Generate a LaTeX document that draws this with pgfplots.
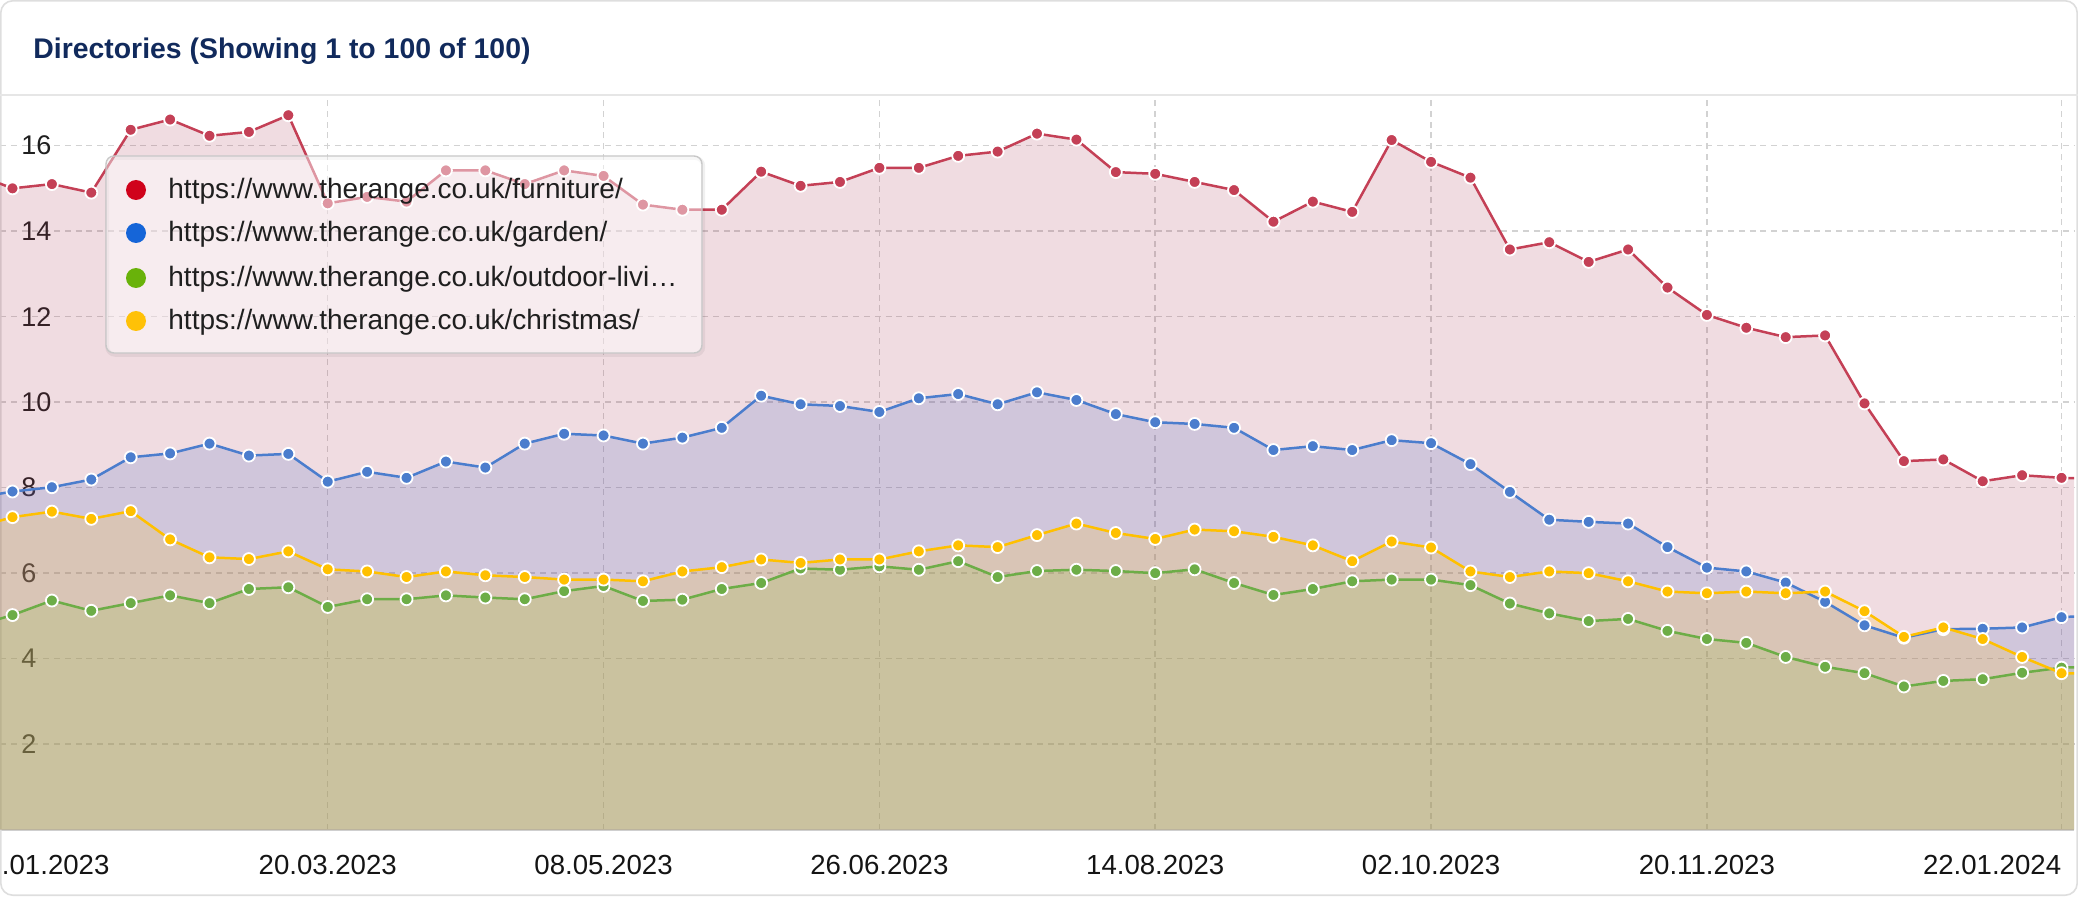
\documentclass[border=0pt]{standalone}
\usepackage{fontspec}
\setmainfont{Liberation Sans}
\usepackage{pgfplots}
\usepackage{pgfplotstable}
\pgfplotsset{compat=1.18}

\definecolor{redline}{HTML}{C44056}
\definecolor{blueline}{HTML}{4B7DCD}
\definecolor{greenline}{HTML}{6DAD47}
\definecolor{yellowline}{HTML}{FFC000}
\definecolor{redfill}{RGB}{165,45,75}
\definecolor{bluefill}{RGB}{80,110,198}
\definecolor{yellowfill}{RGB}{253,193,33}
\definecolor{greenfill}{RGB}{140,185,60}
\definecolor{lred}{HTML}{D0021B}
\definecolor{lblue}{HTML}{1565D8}
\definecolor{lgreen}{HTML}{69B20A}
\definecolor{lyellow}{HTML}{FFC107}
\definecolor{gridc}{HTML}{D2D2D2}
\definecolor{navy}{HTML}{112A5C}
\definecolor{cardline}{HTML}{DEDEDE}
\definecolor{sepline}{HTML}{E6E6E6}
\definecolor{axisline}{HTML}{CFCFCF}
\definecolor{legline}{HTML}{C8C8C8}

% weekly points, week 0 = 23.01.2023
\pgfplotstableread{
x y
-1 15.35
0 15.00
1 15.10
2 14.90
3 16.37
4 16.61
5 16.23
6 16.32
7 16.71
8 14.65
9 14.80
10 14.69
11 15.42
12 15.42
13 15.10
14 15.42
15 15.29
16 14.62
17 14.50
18 14.50
19 15.39
20 15.06
21 15.15
22 15.48
23 15.48
24 15.76
25 15.86
26 16.28
27 16.14
28 15.38
29 15.34
30 15.15
31 14.96
32 14.22
33 14.69
34 14.45
35 16.13
36 15.62
37 15.25
38 13.57
39 13.74
40 13.28
41 13.57
42 12.68
43 12.04
44 11.74
45 11.52
46 11.56
47 9.97
48 8.62
49 8.66
50 8.15
51 8.29
52 8.23
53 8.20
}\furniture

\pgfplotstableread{
x y
-1 7.75
0 7.91
1 8.01
2 8.19
3 8.71
4 8.80
5 9.03
6 8.75
7 8.79
8 8.14
9 8.37
10 8.23
11 8.61
12 8.47
13 9.03
14 9.26
15 9.22
16 9.03
17 9.17
18 9.40
19 10.15
20 9.95
21 9.91
22 9.77
23 10.09
24 10.19
25 9.95
26 10.23
27 10.05
28 9.72
29 9.53
30 9.49
31 9.40
32 8.88
33 8.97
34 8.88
35 9.11
36 9.04
37 8.55
38 7.90
39 7.25
40 7.20
41 7.16
42 6.61
43 6.13
44 6.04
45 5.78
46 5.33
47 4.78
48 4.49
49 4.69
50 4.70
51 4.73
52 4.97
53 5.02
}\garden

\pgfplotstableread{
x y
-1 4.75
0 5.02
1 5.36
2 5.12
3 5.30
4 5.48
5 5.30
6 5.63
7 5.67
8 5.21
9 5.39
10 5.39
11 5.48
12 5.43
13 5.39
14 5.58
15 5.70
16 5.35
17 5.38
18 5.63
19 5.77
20 6.11
21 6.08
22 6.16
23 6.08
24 6.28
25 5.91
26 6.05
27 6.08
28 6.05
29 6.00
30 6.09
31 5.77
32 5.49
33 5.63
34 5.81
35 5.85
36 5.85
37 5.72
38 5.29
39 5.06
40 4.88
41 4.93
42 4.65
43 4.46
44 4.37
45 4.04
46 3.81
47 3.66
48 3.35
49 3.48
50 3.52
51 3.67
52 3.79
53 3.82
}\outdoor

\pgfplotstableread{
x y
-1 7.05
0 7.31
1 7.44
2 7.27
3 7.45
4 6.79
5 6.37
6 6.33
7 6.51
8 6.09
9 6.04
10 5.91
11 6.04
12 5.95
13 5.91
14 5.85
15 5.85
16 5.81
17 6.04
18 6.14
19 6.32
20 6.24
21 6.32
22 6.32
23 6.51
24 6.65
25 6.61
26 6.89
27 7.16
28 6.94
29 6.80
30 7.02
31 6.98
32 6.85
33 6.65
34 6.28
35 6.74
36 6.60
37 6.04
38 5.91
39 6.04
40 6.00
41 5.81
42 5.57
43 5.53
44 5.57
45 5.53
46 5.57
47 5.11
48 4.51
49 4.73
50 4.46
51 4.04
52 3.66
53 3.64
}\christmas

\pgfplotsset{
  seriesline/.style={line width=1.25pt, mark=*, mark size=3pt,
    mark options={fill=#1, draw=white, line width=0.9pt}, color=#1},
}

\begin{document}
\begin{tikzpicture}
% card outline (no fill: the axis layers sit below the main layer)
\draw[cardline, line width=0.8pt, rounded corners=6pt] (0.4pt,0.4pt) rectangle (1038.6pt,447.6pt);
\draw[sepline, line width=0.8pt] (0,400.5pt) -- (1039pt,400.5pt);

\begin{axis}[
  set layers,
  at={(0pt,33.15pt)}, anchor=south west,
  scale only axis, width=1037pt, height=366.85pt,
  xmin=-0.317, xmax=52.32, ymin=0, ymax=17.16,
  axis x line*=bottom, axis y line*=left,
  y axis line style={draw=none},
  x axis line style={draw=axisline, line width=0.8pt, -},
  major tick length=0pt,
  /pgf/number format/assume math mode=true,
  xtick={8,15,22,29,36,43,52},
  xticklabels={20.03.2023,08.05.2023,26.06.2023,14.08.2023,02.10.2023,20.11.2023,{}},
  extra x ticks={2.47,52},
  extra x tick labels={16.01.2023,22.01.2024},
  extra x tick style={grid=none, xticklabel style={anchor=north east}},
  ytick={2,4,...,16},
  grid=major,
  major grid style={gridc, dash pattern=on 3pt off 2.4pt, line width=0.75pt},
  xticklabel style={inner sep=0pt, yshift=-12.5pt, text=black!92,
    font=\fontsize{13.8}{15}\selectfont},
  yticklabel style={anchor=west, xshift=10.5pt, inner sep=0pt, text=black!88,
    font=\fontsize{13.5}{15}\selectfont},
]
% translucent areas down to zero
\addplot[draw=none, fill=redfill, fill opacity=0.165] table[x=x,y=y]{\furniture} \closedcycle;
\addplot[draw=none, fill=bluefill, fill opacity=0.2] table[x=x,y=y]{\garden} \closedcycle;
\addplot[draw=none, fill=yellowfill, fill opacity=0.2] table[x=x,y=y]{\christmas} \closedcycle;
\addplot[draw=none, fill=greenfill, fill opacity=0.18] table[x=x,y=y]{\outdoor} \closedcycle;
% lines with markers
\addplot[seriesline=redline] table[x=x,y=y]{\furniture};
\addplot[seriesline=blueline] table[x=x,y=y]{\garden};
\addplot[seriesline=greenline] table[x=x,y=y]{\outdoor};
\addplot[seriesline=yellowline] table[x=x,y=y]{\christmas};
\end{axis}

% legend
\draw[black, opacity=0.06, line width=2pt, rounded corners=4pt] (53.6pt,270.6pt) rectangle (351.6pt,369pt);
\draw[legline, line width=0.7pt, fill=white, fill opacity=0.45, rounded corners=4pt]
  (53pt,271.5pt) rectangle (351pt,370pt);
\fill[lred] (68pt,353pt) circle (5pt);
\fill[lblue] (68pt,331.5pt) circle (5pt);
\fill[lgreen] (68pt,309pt) circle (5pt);
\fill[lyellow] (68pt,287.5pt) circle (5pt);
\begin{scope}[every node/.style={anchor=base west, inner sep=0pt, text=black!88,
    font=\fontsize{14}{16}\selectfont}]
\node at (84pt,348.85pt) {https://www.therange.co.uk/furniture/};
\node at (84pt,327.35pt) {https://www.therange.co.uk/garden/};
\node at (84pt,304.85pt) {https://www.therange.co.uk/outdoor-livi…};
\node at (84pt,283.35pt) {https://www.therange.co.uk/christmas/};
\end{scope}

% title
\node[anchor=base west, inner sep=0pt, text=navy, font=\bfseries\fontsize{14.2}{16}\selectfont]
  at (16.5pt,418.5pt) {Directories (Showing 1 to 100 of 100)};

% page = card; the first date label runs off its left edge
\pgfresetboundingbox
\path[use as bounding box] (0,0) rectangle (1039pt,448pt);
\end{tikzpicture}
\end{document}
